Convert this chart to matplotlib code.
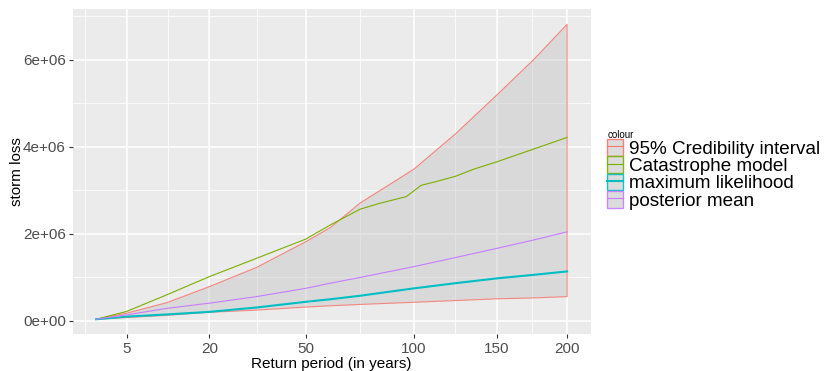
import numpy as np
import matplotlib
matplotlib.use('Agg')
import matplotlib.pyplot as plt
from matplotlib.patches import Patch
from matplotlib.lines import Line2D

plt.rcParams['font.family'] = ['Liberation Sans', 'DejaVu Sans']

# ---- data (losses in millions) ----
return_period = [2, 5, 11, 20, 33, 50, 60, 73, 100, 124, 150, 175, 200]
ci_upper = [0.04, 0.18, 0.42, 0.79, 1.23, 1.82, 2.15, 2.71, 3.49, 4.31, 5.20, 6.00, 6.82]
ci_lower = [0.04, 0.08, 0.13, 0.20, 0.25, 0.32, 0.35, 0.38, 0.43, 0.47, 0.51, 0.53, 0.56]
mle = [0.04, 0.10, 0.15, 0.21, 0.31, 0.44, 0.50, 0.58, 0.75, 0.87, 0.98, 1.06, 1.14]
posterior = [0.04, 0.14, 0.29, 0.41, 0.56, 0.75, 0.87, 1.00, 1.25, 1.46, 1.67, 1.86, 2.05]
cat_period = [2, 5, 11, 20, 33, 50, 60, 73, 82, 96, 104, 112, 124, 135, 150, 175, 200]
cat_loss = [0.04, 0.22, 0.60, 1.02, 1.44, 1.88, 2.21, 2.57, 2.70, 2.86, 3.12, 3.20, 3.33, 3.49, 3.66, 3.95, 4.22]

x_ticks = [5, 20, 50, 100, 150, 200]
y_ticks = [0, 2e6, 4e6, 6e6]
y_labels = ['0e+00', '2e+06', '4e+06', '6e+06']
labels = ['95% Credibility interval', 'Catastrophe model', 'maximum likelihood', 'posterior mean']
colors = ['#F8766D', '#7CAE00', '#00BFC4', '#C77CFF']

M = 1e6
t = np.array(return_period, dtype=float)
up = np.array(ci_upper) * M
lo = np.array(ci_lower) * M

fig = plt.figure(figsize=(8.25, 3.71), dpi=100)
ax = fig.add_axes([72.7/825, 1-334/371, (590.7-72.7)/825, (334-9)/371])
ax.set_facecolor('#EBEBEB')

fwd = lambda x: np.sqrt(np.clip(x, 0, None))
inv = lambda x: np.square(x)
ax.set_xscale('function', functions=(fwd, inv))
ax.set_xlim(0.778**2, 14.78**2)
ax.set_ylim(-0.299e6, 7.172e6)

# grid
major_x = np.array(x_ticks, dtype=float)
sx = np.sqrt(np.concatenate([[0.0], major_x]))
minor_x = ((sx[:-1] + sx[1:]) / 2) ** 2
ax.set_xticks(x_ticks)
ax.set_xticklabels([str(v) for v in x_ticks])
ax.set_xticks(minor_x, minor=True)
ax.set_yticks(y_ticks)
ax.set_yticklabels(y_labels)
ax.set_yticks([1e6, 3e6, 5e6, 7e6], minor=True)
ax.grid(which='major', color='white', lw=1.1)
ax.grid(which='minor', color='white', lw=0.55)
ax.set_axisbelow(True)
for s in ax.spines.values():
    s.set_visible(False)
ax.tick_params(which='major', length=3, width=0.8, color='#333333',
               labelcolor='#4D4D4D', labelsize=11, pad=2)
ax.tick_params(axis='x', which='major', pad=2.5)
ax.tick_params(which='minor', length=0)

# ribbon
poly_x = np.concatenate([t, t[::-1], [t[0]]])
poly_y = np.concatenate([up, lo[::-1], [up[0]]])
ax.fill(poly_x, poly_y, facecolor=(0.745, 0.745, 0.745, 0.4), edgecolor='none', zorder=2)
ax.plot(poly_x, poly_y, color=colors[0], lw=0.8, alpha=0.85, zorder=3)

ax.plot(cat_period, np.array(cat_loss) * M, color=colors[1], lw=0.8, zorder=4)
ax.plot(return_period, np.array(mle) * M, color=colors[2], lw=1.5, zorder=4)
ax.plot(return_period, np.array(posterior) * M, color=colors[3], lw=0.8, zorder=4)

ax.set_xlabel('Return period (in years)', fontsize=11, color='black', labelpad=1)
ax.set_ylabel('storm loss', fontsize=11, color='black', labelpad=-0.5)

handles = []
for c, lw in zip(colors, [0.8, 0.8, 1.5, 0.8]):
    p = Patch(facecolor='#D9D9D9', edgecolor=c, lw=1.0, alpha=0.9)
    l = Line2D([], [], color=c, lw=lw)
    handles.append((p, l))
leg = fig.legend(handles, labels, loc='upper left', bbox_to_anchor=(594/825, 1-117/371),
                 frameon=False, fontsize=13.6, title='colour', title_fontsize=7,
                 handlelength=0.85, handleheight=1.0, handletextpad=0.3,
                 labelspacing=-0.08, borderpad=0.2, alignment='left')

fig.savefig('out.png', dpi=100)
